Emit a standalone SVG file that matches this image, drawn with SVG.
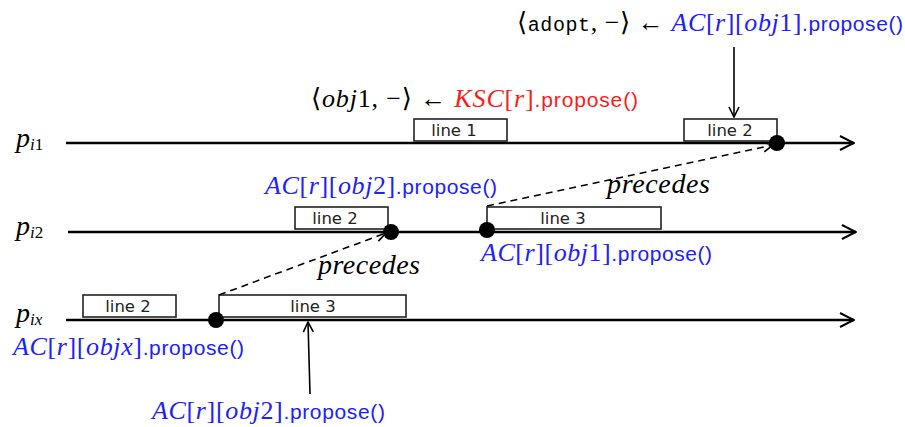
<svg xmlns="http://www.w3.org/2000/svg" width="905" height="427" viewBox="0 0 905 427">
<defs>
<style>
.tl{stroke:#000;stroke-width:2.6;fill:none}
.box{fill:#fff;stroke:#222;stroke-width:1.6}
.bl{font-family:"DejaVu Sans","Liberation Sans",sans-serif;font-size:16.5px;fill:#222;text-anchor:middle}
.m{font-family:"Liberation Serif","DejaVu Serif",serif;font-size:26px}
.i{font-style:italic}
.sf{font-family:"Liberation Sans","DejaVu Sans",sans-serif;font-size:21px}
.tt{font-family:"Liberation Mono","DejaVu Sans Mono",monospace;font-size:20px}
.blue{fill:#2020ff}
.red{fill:#ff1a1a}
.dot{fill:#000}
.dash{stroke:#000;stroke-width:1.6;stroke-dasharray:7 5;fill:none}
.arr{stroke:#000;stroke-width:1.6;fill:none}
.sub{font-size:17px}
.pl{font-family:"Liberation Serif","DejaVu Serif",serif;font-size:28px;font-style:italic}
.pr{font-family:"Liberation Serif","DejaVu Serif",serif;font-size:28px;font-style:italic}
</style>
<marker id="ah" viewBox="0 0 12 12" refX="11" refY="6" markerWidth="12" markerHeight="12" markerUnits="userSpaceOnUse" orient="auto">
<path d="M1,1 L11,6 L1,11" fill="none" stroke="#000" stroke-width="1.6"/>
</marker>
<marker id="ahb" viewBox="0 0 16 16" refX="15" refY="8" markerWidth="16" markerHeight="16" markerUnits="userSpaceOnUse" orient="auto">
<path d="M1,1 L15,8 L1,15" fill="none" stroke="#000" stroke-width="2"/>
</marker>
</defs>
<rect width="905" height="427" fill="#fff"/>

<g id="process-pi1">
<text class="pl" x="16" y="147">p<tspan class="sub" dy="3">i</tspan><tspan class="sub" font-style="normal">1</tspan></text>
<line class="tl" x1="66" y1="143" x2="854" y2="143" marker-end="url(#ahb)"/>
</g>
<g id="process-pi2">
<text class="pl" x="16" y="235">p<tspan class="sub" dy="3">i</tspan><tspan class="sub" font-style="normal">2</tspan></text>
<line class="tl" x1="68" y1="232" x2="856" y2="232" marker-end="url(#ahb)"/>
</g>
<g id="process-pix">
<text class="pl" x="16" y="322">p<tspan class="sub" dy="3">ix</tspan></text>
<line class="tl" x1="66" y1="320" x2="854" y2="320" marker-end="url(#ahb)"/>
</g>

<g id="pi1-line1"><rect class="box" x="414" y="119" width="93" height="22"/><text class="bl" x="454" y="136">line 1</text></g>
<g id="pi1-line2"><rect class="box" x="684" y="119" width="93" height="22"/><text class="bl" x="730" y="136">line 2</text></g>
<g id="pi2-line2"><rect class="box" x="295" y="207" width="93" height="22"/><text class="bl" x="335" y="224">line 2</text></g>
<g id="pi2-line3"><rect class="box" x="487" y="207" width="174" height="22"/><text class="bl" x="563" y="224">line 3</text></g>
<g id="pix-line2"><rect class="box" x="83" y="295" width="93" height="22"/><text class="bl" x="128" y="312">line 2</text></g>
<g id="pix-line3"><rect class="box" x="219" y="295" width="187" height="22"/><text class="bl" x="313" y="312">line 3</text></g>

<g id="dot-pi1"><circle class="dot" cx="777" cy="143" r="8"/></g>
<g id="dot-pi2-a"><circle class="dot" cx="391" cy="232" r="8"/></g>
<g id="dot-pi2-b"><circle class="dot" cx="487" cy="230" r="8"/></g>
<g id="dot-pix"><circle class="dot" cx="216" cy="320" r="8"/></g>

<g id="connectors">
<path class="dash" d="M219,295 L386,233" marker-end="url(#ah)"/>
<path class="dash" d="M487,206 L773,145" marker-end="url(#ah)"/>
<line class="arr" x1="734" y1="47" x2="734" y2="117" marker-end="url(#ah)"/>
<line class="arr" x1="310" y1="394" x2="308" y2="322" marker-end="url(#ah)"/>
</g>

<g id="label-top">
<text x="517" y="31" class="m" textLength="386" lengthAdjust="spacing">⟨<tspan class="tt">adopt</tspan>, −⟩ ← <tspan class="blue"><tspan class="i">AC</tspan>[<tspan class="i">r</tspan>][<tspan class="i">obj</tspan>1]<tspan class="sf">.propose()</tspan></tspan></text>
</g>
<g id="label-ksc">
<text x="311" y="107" class="m" textLength="327" lengthAdjust="spacing">⟨<tspan class="i">obj</tspan>1, −⟩ ← <tspan class="red"><tspan class="i">KSC</tspan>[<tspan class="i">r</tspan>]<tspan class="sf">.propose()</tspan></tspan></text>
</g>
<g id="label-obj2-pi2">
<text x="265" y="194" class="m blue" textLength="232" lengthAdjust="spacing"><tspan class="i">AC</tspan>[<tspan class="i">r</tspan>][<tspan class="i">obj</tspan>2]<tspan class="sf">.propose()</tspan></text>
</g>
<g id="label-precedes-1"><text x="607" y="193" class="pr" textLength="103" lengthAdjust="spacing">precedes</text></g>
<g id="label-obj1-pi2">
<text x="481" y="261" class="m blue" textLength="231" lengthAdjust="spacing"><tspan class="i">AC</tspan>[<tspan class="i">r</tspan>][<tspan class="i">obj</tspan>1]<tspan class="sf">.propose()</tspan></text>
</g>
<g id="label-precedes-2"><text x="318" y="274" class="pr" textLength="102" lengthAdjust="spacing">precedes</text></g>
<g id="label-objx">
<text x="13" y="355" class="m blue" textLength="231" lengthAdjust="spacing"><tspan class="i">AC</tspan>[<tspan class="i">r</tspan>][<tspan class="i">objx</tspan>]<tspan class="sf">.propose()</tspan></text>
</g>
<g id="label-obj2-pix">
<text x="152" y="419" class="m blue" textLength="233" lengthAdjust="spacing"><tspan class="i">AC</tspan>[<tspan class="i">r</tspan>][<tspan class="i">obj</tspan>2]<tspan class="sf">.propose()</tspan></text>
</g>
</svg>
